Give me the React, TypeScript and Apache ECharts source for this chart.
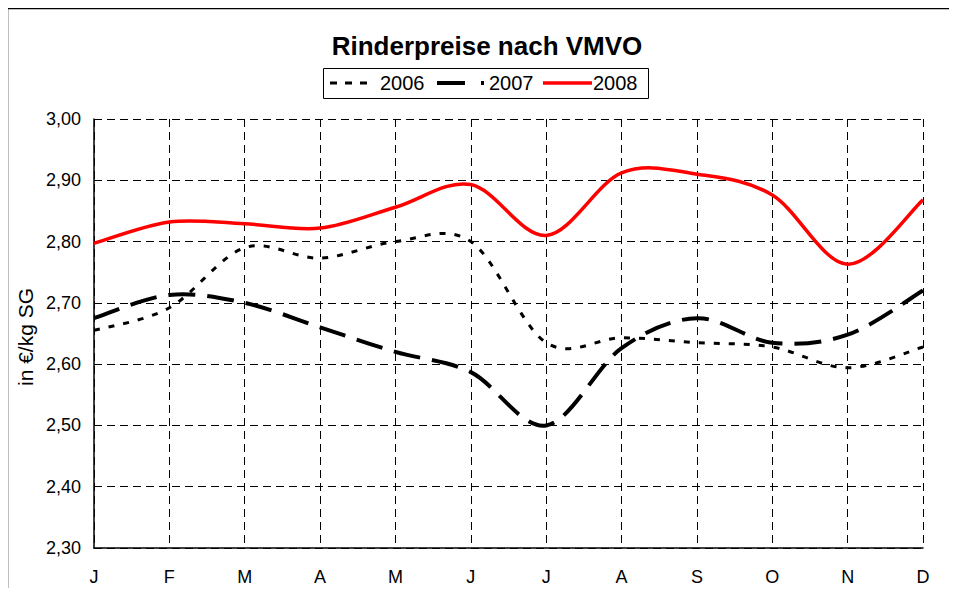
import React, { useEffect, useRef } from "react";
import * as echarts from "echarts";

const months = ["J", "F", "M", "A", "M", "J", "J", "A", "S", "O", "N", "D"];
const yLabels = ["2,30", "2,40", "2,50", "2,60", "2,70", "2,80", "2,90", "3,00"];
const seriesNames = ["2006", "2007", "2008"];
const s2006 = [2.655, 2.692, 2.79, 2.773, 2.8, 2.8, 2.635, 2.643, 2.635, 2.628, 2.594, 2.628];
const s2007 = [2.675, 2.713, 2.7, 2.66, 2.62, 2.587, 2.5, 2.626, 2.675, 2.635, 2.648, 2.72];
const s2008 = [2.797, 2.832, 2.829, 2.822, 2.856, 2.893, 2.81, 2.912, 2.91, 2.876, 2.763, 2.868];

const FONT = "Liberation Sans, Arial, sans-serif";

function smoothSeries(name: string, values: number[], style: any) {
  return {
    name,
    type: "custom",
    data: values.map((v, i) => [i, v]),
    encode: { x: 0, y: 1 },
    renderItem: (params: any, api: any) => {
      if (params.dataIndex !== 0) return { type: "group", children: [] };
      const pts = values.map((v, i) => api.coord([i, v]));
      const n = pts.length;
      let d = `M${pts[0][0]},${pts[0][1]}`;
      for (let i = 0; i < n - 1; i++) {
        const p0 = pts[Math.max(0, i - 1)];
        const p1 = pts[i];
        const p2 = pts[i + 1];
        const p3 = pts[Math.min(n - 1, i + 2)];
        const c1x = p1[0] + (p2[0] - p0[0]) / 6;
        const c1y = p1[1] + (p2[1] - p0[1]) / 6;
        const c2x = p2[0] - (p3[0] - p1[0]) / 6;
        const c2y = p2[1] - (p3[1] - p1[1]) / 6;
        d += ` C${c1x},${c1y} ${c2x},${c2y} ${p2[0]},${p2[1]}`;
      }
      return {
        type: "path",
        shape: { pathData: d },
        style: { fill: "none", ...style },
      };
    },
  };
}

export default function App() {
  const ref = useRef<HTMLDivElement>(null);
  useEffect(() => {
    const chart = echarts.init(ref.current!, undefined, { renderer: "svg" });
    const legendY = 83;
    chart.setOption({
      animation: false,
      backgroundColor: "#fff",
      grid: { left: 94, right: 34, top: 119, bottom: 48 },
      xAxis: {
        type: "category",
        data: months,
        boundaryGap: false,
        axisLine: { show: true, lineStyle: { color: "#000", width: 1.5 } },
        axisTick: { show: false },
        axisLabel: { fontFamily: FONT, fontSize: 18, color: "#000", margin: 20 },
        splitLine: { show: true, lineStyle: { color: "#000", type: [8, 5], width: 1 } },
      },
      yAxis: {
        type: "value",
        min: 2.3,
        max: 3.0,
        interval: 0.1,
        axisLine: { show: true, lineStyle: { color: "#000", width: 1.5 } },
        axisTick: { show: false },
        axisLabel: {
          fontFamily: FONT,
          fontSize: 18,
          color: "#000",
          margin: 13,
          formatter: (v: number) => yLabels[Math.round((v - 2.3) * 10)] ?? v.toFixed(2).replace(".", ","),
        },
        splitLine: { show: true, lineStyle: { color: "#000", type: [8, 5], width: 1 } },
      },
      series: [
        smoothSeries(seriesNames[0], s2006, { stroke: "#000", lineWidth: 3, lineDash: [6, 9] }),
        smoothSeries(seriesNames[1], s2007, { stroke: "#000", lineWidth: 4, lineDash: [27, 12] }),
        smoothSeries(seriesNames[2], s2008, { stroke: "#ff0000", lineWidth: 3.5 }),
      ],
      graphic: [
        {
          type: "rect",
          left: 5,
          top: 6,
          shape: { x: 0, y: 0, width: 946, height: 600 },
          style: { fill: "none", stroke: "#000", lineWidth: 1.5 },
          silent: true,
          z: 100,
        },
        {
          type: "text",
          x: 487,
          y: 46,
          style: {
            text: "Rinderpreise nach VMVO",
            fontFamily: FONT,
            fontSize: 26,
            fontWeight: "bold",
            fill: "#000",
            align: "center",
            verticalAlign: "middle",
          },
        },
        {
          type: "text",
          x: 25,
          y: 337,
          rotation: Math.PI / 2,
          style: {
            text: "in €/kg SG",
            fontFamily: FONT,
            fontSize: 21,
            fill: "#000",
            align: "center",
            verticalAlign: "middle",
          },
        },
        {
          type: "rect",
          shape: { x: 323.5, y: 68.5, width: 325, height: 30 },
          style: { fill: "#fff", stroke: "#000", lineWidth: 1 },
        },
        {
          type: "line",
          shape: { x1: 330, y1: legendY, x2: 372, y2: legendY },
          style: { stroke: "#000", lineWidth: 3, lineDash: [7, 8] },
        },
        {
          type: "text",
          x: 380,
          y: legendY,
          style: { text: seriesNames[0], fontFamily: FONT, fontSize: 20, fill: "#000", align: "left", verticalAlign: "middle" },
        },
        {
          type: "line",
          shape: { x1: 437, y1: legendY, x2: 484, y2: legendY },
          style: { stroke: "#000", lineWidth: 4, lineDash: [28, 16] },
        },
        {
          type: "text",
          x: 489,
          y: legendY,
          style: { text: seriesNames[1], fontFamily: FONT, fontSize: 20, fill: "#000", align: "left", verticalAlign: "middle" },
        },
        {
          type: "line",
          shape: { x1: 543, y1: legendY, x2: 592, y2: legendY },
          style: { stroke: "#ff0000", lineWidth: 3.5 },
        },
        {
          type: "text",
          x: 593,
          y: legendY,
          style: { text: seriesNames[2], fontFamily: FONT, fontSize: 20, fill: "#000", align: "left", verticalAlign: "middle" },
        },
      ],
    });
    return () => chart.dispose();
  }, []);
  return <div ref={ref} style={{ width: 957, height: 596, margin: -8 }} />;
}
